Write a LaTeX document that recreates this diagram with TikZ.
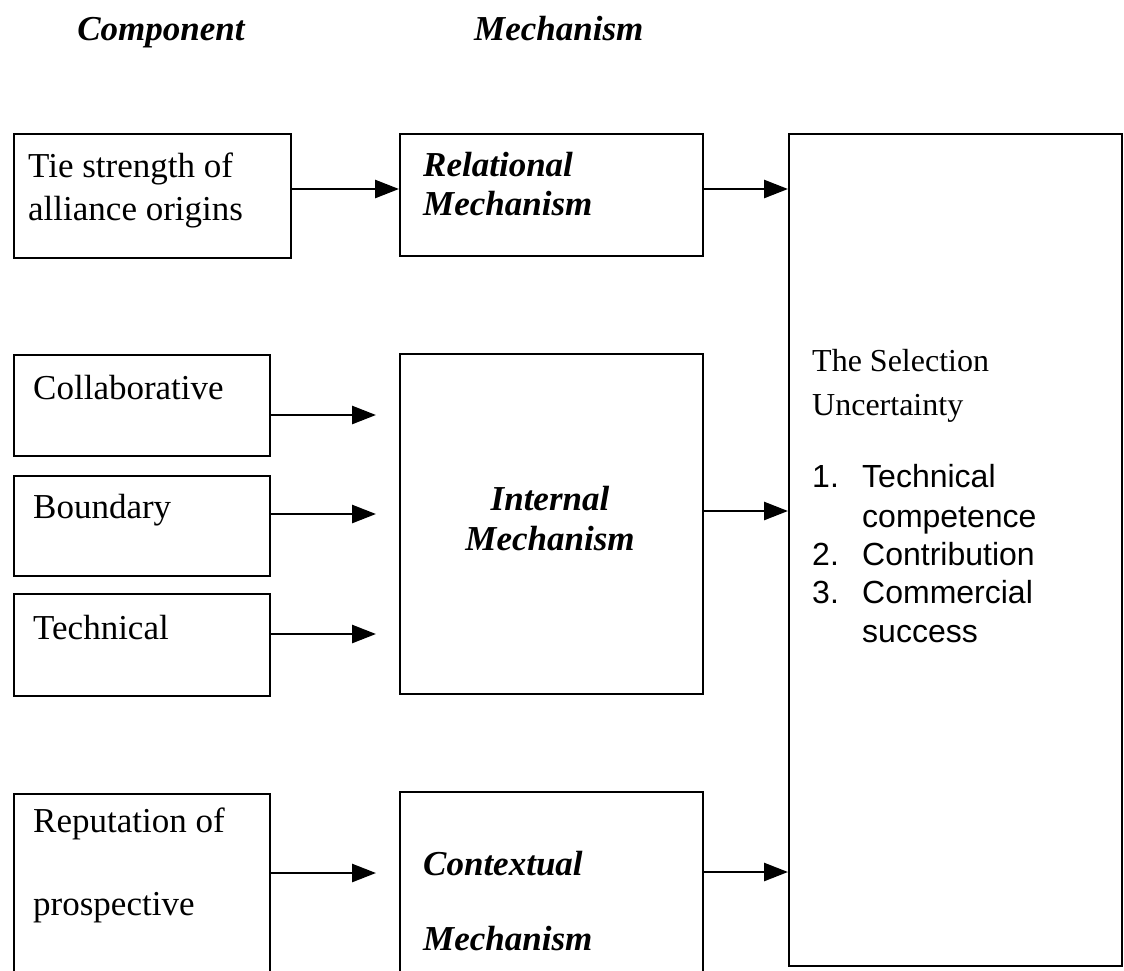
\documentclass[tikz,border=0pt]{standalone}
\usepackage{fontspec}
\setmainfont{Liberation Serif}
\newfontfamily\listfont{Liberation Sans}
\usetikzlibrary{arrows.meta}

\begin{document}
\begin{tikzpicture}[x=1pt,y=-1pt,
  box/.style={draw, line width=2pt, rectangle, inner sep=0pt, anchor=north west},
  arr/.style={line width=2.7pt, -{Triangle[length=24pt,width=18pt]}},
  lbl/.style={anchor=base west, inner sep=0pt, font=\fontsize{35}{42}\selectfont},
  mech/.style={lbl, font=\fontsize{35}{42}\selectfont\bfseries\itshape},
  rlbl/.style={anchor=base west, inner sep=0pt, font=\fontsize{32}{38}\selectfont},
  item/.style={rlbl, font=\listfont\fontsize{32}{38}\selectfont}]

% page frame; boxes running off the bottom are cut here
\clip (0,0) rectangle (1124,970);

% column headings
\node[mech, anchor=base] (h1) at (161,40) {Component};
\node[mech] (h2) at (474,40) {Mechanism};

% components
\node[box, minimum width=277pt, minimum height=124pt] (A) at (13,133) {};
\node[box, minimum width=256pt, minimum height=101pt] (C) at (13,354) {};
\node[box, minimum width=256pt, minimum height=100pt] (B) at (13,475) {};
\node[box, minimum width=256pt, minimum height=102pt] (T) at (13,593) {};
\node[box, minimum width=256pt, minimum height=200pt] (P) at (13,793) {};

% mechanisms
\node[box, minimum width=303pt, minimum height=122pt] (R) at (399,133) {};
\node[box, minimum width=303pt, minimum height=340pt] (I) at (399,353) {};
\node[box, minimum width=303pt, minimum height=200pt] (X) at (399,791) {};

% outcome
\node[box, minimum width=333pt, minimum height=832pt] (S) at (788,133) {};

% texts of the components
\node[lbl] (tA1) at (28,177) {Tie strength of};
\node[lbl] (tA2) at (28,220) {alliance origins};
\node[lbl] (tC) at (33,399) {Collaborative};
\node[lbl] (tB) at (33,518) {Boundary};
\node[lbl] (tT) at (33,639) {Technical};
\node[lbl] (tP1) at (33,832) {Reputation of};
\node[lbl] (tP2) at (33,915) {prospective};

% texts of the mechanisms
\node[mech] (tR1) at (423,176) {Relational};
\node[mech] (tR2) at (423,215) {Mechanism};
\node[mech, anchor=base] (tI1) at (550,510) {Internal};
\node[mech, anchor=base] (tI2) at (550,550) {Mechanism};
\node[mech] (tX1) at (423,875) {Contextual};
\node[mech] (tX2) at (423,950) {Mechanism};

% text of the outcome
\node[rlbl] (s1) at (812,371) {The Selection};
\node[rlbl] (s2) at (812,415) {Uncertainty};
\node[item] (n1) at (812,487) {1.};
\node[item] (i1) at (862,487) {Technical};
\node[item] (i1b) at (862,527) {competence};
\node[item] (n2) at (812,565) {2.};
\node[item] (i2) at (862,565) {Contribution};
\node[item] (n3) at (812,603) {3.};
\node[item] (i3) at (862,603) {Commercial};
\node[item] (i3b) at (862,642) {success};

% arrow rows and free arrow ends
\coordinate (ya) at (0,189);
\coordinate (yi) at (0,511);
\coordinate (yx) at (0,872);
\coordinate (tc) at (376,415);
\coordinate (tb) at (376,514);
\coordinate (tt) at (376,634);
\coordinate (tp) at (376,873);

\draw[arr] (A.east |- ya) -- (R.west |- ya);
\draw[arr] (R.east |- ya) -- (S.west |- ya);
\draw[arr] (C.east |- tc) -- (tc);
\draw[arr] (B.east |- tb) -- (tb);
\draw[arr] (T.east |- tt) -- (tt);
\draw[arr] (I.east |- yi) -- (S.west |- yi);
\draw[arr] (P.east |- tp) -- (tp);
\draw[arr] (X.east |- yx) -- (S.west |- yx);
\end{tikzpicture}
\end{document}
